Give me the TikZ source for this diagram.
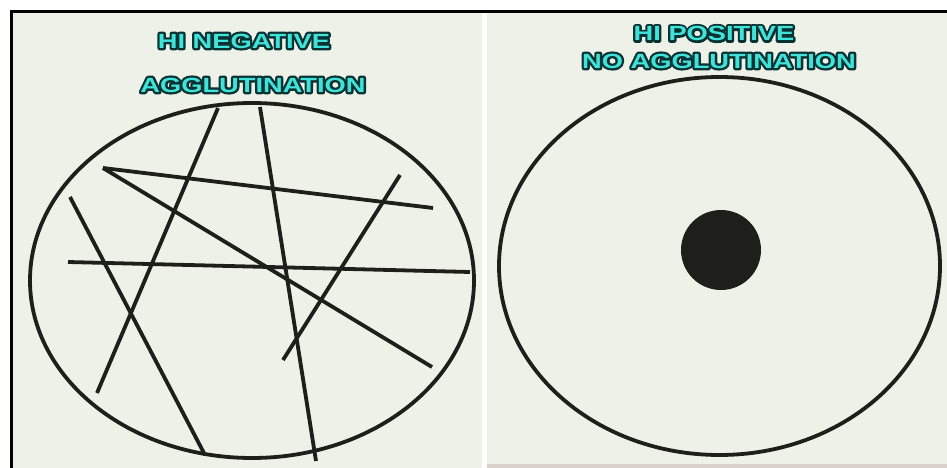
\documentclass[tikz,border=0pt]{standalone}
\usepackage{fontspec}
\usetikzlibrary{positioning}
\newfontfamily\titlefont{Liberation Sans Bold}[FakeStretch=1.33]
\definecolor{paper}{HTML}{EEF1E7}
\definecolor{band}{HTML}{D9D0CB}
\definecolor{titlecyan}{HTML}{3FE3DA}
\definecolor{ink}{HTML}{1E1E1A}
% dark rim drawn as a stroked copy under the cyan letters
\newcommand{\rimtext}[1]{\rlap{\special{pdf:literal direct 1 Tr 4.6 w 1 j 0.035 0.2 0.2 RG}#1\special{pdf:literal direct 0 Tr}}#1}

\begin{document}
\begin{tikzpicture}[x=1pt, y=-1pt,
  panel/.style={fill=paper, draw=none},
  stroke/.style={draw=ink, line width=3.8pt},
  title/.style={font=\titlefont\fontsize{20.5}{22}\selectfont, text=titlecyan, inner sep=0pt}
]
  \useasboundingbox (0,0) rectangle (947,468);
  \fill[white] (0,0) rectangle (947,468);

  % the two slides
  \path[panel] (13,13) rectangle (482,468);
  \path[panel] (487,13) rectangle (947,464);
  \fill[band] (487,464) rectangle (947,468);
  \draw[black, line width=2.6pt] (11.3,468) -- (11.3,11.3) -- (947,11.3);

  % HI negative
  \node[title] (negtop) at (244,41) {\rimtext{HI NEGATIVE}};
  \node[title] (negbot) at (253,85) {\rimtext{AGGLUTINATION}};
  \draw[stroke] (252,280.5) ellipse [x radius=222, y radius=177.5];
  \draw[stroke] (103,168) -- (433,208);
  \draw[stroke] (103,168) -- (432,367);
  \draw[stroke] (68,262) -- (470,272);
  \draw[stroke] (70,197) -- (205,455);
  \draw[stroke] (218,108) -- (97,393);
  \draw[stroke] (260,107) -- (316,461);
  \draw[stroke] (400,175) -- (283,360);

  % HI positive
  \node[title] (postop) at (714,33.5) {\rimtext{HI POSITIVE}};
  \node[title] (posbot) at (719,61) {\rimtext{NO AGGLUTINATION}};
  \draw[stroke] (719.5,266) ellipse [x radius=220.5, y radius=189];
  \fill[ink] (721,250) circle [radius=40];
\end{tikzpicture}
\end{document}
